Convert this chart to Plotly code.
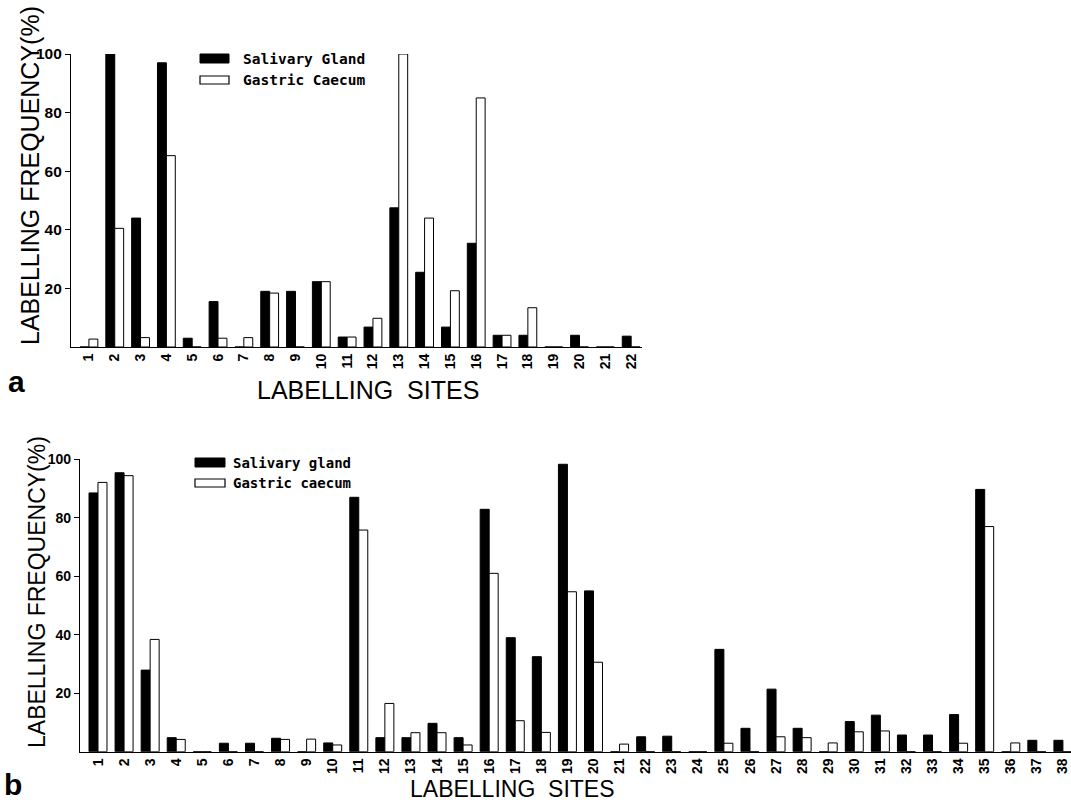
import plotly.graph_objects as go

# ---------------- data ----------------
sites_a = list(range(1, 23))
salivary_a = [0, 100, 44, 97, 3, 15.5, 0, 19, 19, 22.3, 3.4, 6.8, 47.5, 25.5, 6.8, 35.4,
              4, 4, 0, 4, 0, 3.7]
gastric_a = [2.7, 40.5, 3.2, 65.3, 0, 3, 3.2, 18.4, 0, 22.3, 3.4, 9.8, 100, 44, 19.2, 85,
             4, 13.4, 0, 0, 0, 0]

sites_b = list(range(1, 39))
salivary_b = [88.5, 95.4, 27.9, 4.8, 0, 2.9, 2.9, 4.6, 0, 3, 87, 4.8, 4.8, 9.7, 4.8, 82.9,
              39, 32.5, 98.3, 55, 0, 5.1, 5.3, 0, 35, 8, 21.4, 8, 0, 10.3, 12.5, 5.7,
              5.7, 12.7, 89.7, 0, 3.9, 3.9]
gastric_b = [92.1, 94.4, 38.4, 4.2, 0, 0, 0, 4.2, 4.3, 2.3, 75.8, 16.5, 6.5, 6.5, 2.3, 61,
             10.6, 6.6, 54.7, 30.6, 2.6, 0, 0, 0, 2.9, 0, 5.1, 4.8, 3, 6.8, 7.1, 0, 0,
             2.9, 77, 3, 0, 0]

ytick_vals = [20, 40, 60, 80, 100]
y_title = "LABELLING FREQUENCY(%)"
x_title = "LABELLING\u00a0\u00a0SITES"
legend_a = ["Salivary Gland", "Gastric Caecum"]
legend_b = ["Salivary gland", "Gastric caecum"]

W, H = 1071, 806


def fx(px):
    return px / W


def fy(py):
    return 1 - py / H


fig = go.Figure()

bar_line = dict(color="black", width=1)
fig.add_trace(go.Bar(x=sites_a, y=salivary_a, marker=dict(color="black", line=bar_line),
                     xaxis="x", yaxis="y", showlegend=False, name=legend_a[0]))
fig.add_trace(go.Bar(x=sites_a, y=gastric_a, marker=dict(color="white", line=bar_line),
                     xaxis="x", yaxis="y", showlegend=False, name=legend_a[1]))
fig.add_trace(go.Bar(x=sites_b, y=salivary_b, marker=dict(color="black", line=bar_line),
                     xaxis="x2", yaxis="y2", showlegend=False, name=legend_b[0]))
fig.add_trace(go.Bar(x=sites_b, y=gastric_b, marker=dict(color="white", line=bar_line),
                     xaxis="x2", yaxis="y2", showlegend=False, name=legend_b[1]))

common_x = dict(showline=True, linecolor="black", linewidth=1.2, ticks="",
                tickangle=-90, showgrid=False, zeroline=False, tickmode="array",
                automargin=False)
common_y = dict(showline=True, linecolor="black", linewidth=1.2, ticks="outside",
                ticklen=5, tickwidth=1, tickcolor="black", showgrid=False,
                zeroline=False, tickmode="array", tickvals=ytick_vals, range=[0, 100],
                automargin=False)

fig.update_layout(
    template="none",
    width=W, height=H,
    autosize=False,
    margin=dict(l=0, r=0, t=0, b=0, pad=0, autoexpand=False),
    paper_bgcolor="white", plot_bgcolor="white",
    barmode="group", bargap=0.31, bargroupgap=0,
    xaxis=dict(domain=[fx(71), fx(642)], range=[0.306, 22.42], anchor="y",
               tickvals=sites_a, ticktext=[str(s) for s in sites_a],
               tickfont=dict(family="Liberation Sans", size=14, color="black",
                             weight="bold"), **common_x),
    yaxis=dict(domain=[fy(347), fy(54)], anchor="x",
               tickfont=dict(family="Liberation Sans", size=15.5, color="black",
                             weight="bold"), **common_y),
    xaxis2=dict(domain=[fx(80), 1.0], range=[0.31, 38.31], anchor="y2",
                tickvals=sites_b, ticktext=[str(s) for s in sites_b],
                tickfont=dict(family="Liberation Sans", size=14, color="black",
                              weight="bold"), **common_x),
    yaxis2=dict(domain=[fy(751.7), fy(459.3)], anchor="x2",
                tickfont=dict(family="Liberation Sans", size=14, color="black",
                              weight="bold"), **common_y),
)

annotations = []
title_font_a = dict(family="Liberation Sans", size=25, color="black")
title_font_b = dict(family="Liberation Sans", size=23, color="black")
annotations.append(dict(text=y_title, x=fx(30), y=fy(176), xref="paper", yref="paper",
                        textangle=-90, showarrow=False, font=title_font_a,
                        xanchor="center", yanchor="middle"))
annotations.append(dict(text=y_title, x=fx(37), y=fy(592), xref="paper", yref="paper",
                        textangle=-90, showarrow=False, font=title_font_b,
                        xanchor="center", yanchor="middle"))
annotations.append(dict(text=x_title, x=fx(368), y=fy(390), xref="paper", yref="paper",
                        showarrow=False, font=title_font_a,
                        xanchor="center", yanchor="middle"))
annotations.append(dict(text=x_title, x=fx(512), y=fy(789), xref="paper", yref="paper",
                        showarrow=False, font=title_font_b,
                        xanchor="center", yanchor="middle"))
panel_font = dict(family="Liberation Sans", size=30, color="black", weight="bold")
annotations.append(dict(text="a", x=fx(16), y=fy(381), xref="paper", yref="paper",
                        showarrow=False, font=panel_font, xanchor="center", yanchor="middle"))
annotations.append(dict(text="b", x=fx(13), y=fy(784), xref="paper", yref="paper",
                        showarrow=False, font=panel_font, xanchor="center", yanchor="middle"))

leg_font_a = dict(family="DejaVu Sans Mono", size=14.5, color="black", weight="bold")
leg_font_b = dict(family="DejaVu Sans Mono", size=14, color="black", weight="bold")
for txt, yy in zip(legend_a, [59, 80]):
    annotations.append(dict(text=txt, x=fx(241), y=fy(yy), xref="paper", yref="paper",
                            showarrow=False, font=leg_font_a, xanchor="left",
                            yanchor="middle"))
for txt, yy in zip(legend_b, [463, 483]):
    annotations.append(dict(text=txt, x=fx(231), y=fy(yy), xref="paper", yref="paper",
                            showarrow=False, font=leg_font_b, xanchor="left",
                            yanchor="middle"))

shapes = [
    dict(type="rect", xref="paper", yref="paper", x0=fx(200), x1=fx(229),
         y0=fy(63), y1=fy(54), fillcolor="black", line=dict(color="black", width=1)),
    dict(type="rect", xref="paper", yref="paper", x0=fx(200), x1=fx(229),
         y0=fy(84), y1=fy(76), fillcolor="white", line=dict(color="black", width=1.2)),
    dict(type="rect", xref="paper", yref="paper", x0=fx(195), x1=fx(225),
         y0=fy(467), y1=fy(458), fillcolor="black", line=dict(color="black", width=1)),
    dict(type="rect", xref="paper", yref="paper", x0=fx(195), x1=fx(225),
         y0=fy(487), y1=fy(479), fillcolor="white", line=dict(color="black", width=1.2)),
]

fig.update_layout(annotations=annotations, shapes=shapes)

fig.write_html(
    "out.html",
    config={"displayModeBar": False},
    post_script="document.body.style.margin='0';document.body.style.overflow='hidden';",
)
